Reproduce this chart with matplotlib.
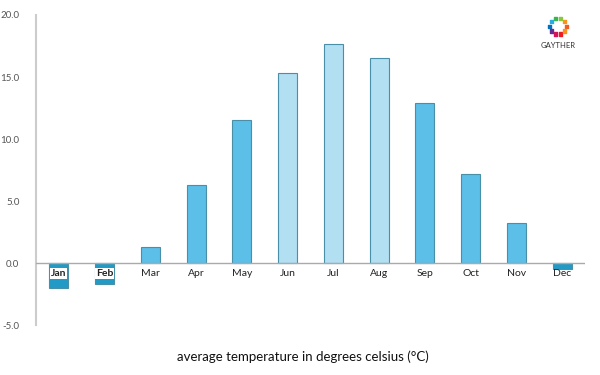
import numpy as np
from matplotlib import pyplot as plt

months = ['Jan', 'Feb', 'Mar', 'Apr', 'May', 'Jun', 'Jul', 'Aug', 'Sep', 'Oct', 'Nov', 'Dec']
temps = [-2.0, -1.7, 1.3, 6.3, 11.5, 15.3, 17.7, 16.5, 12.9, 7.2, 3.2, -0.5]
yticks = [-5.0, 0.0, 5.0, 10.0, 15.0, 20.0]

plt.rcParams['font.family'] = ['Lato', 'DejaVu Sans']


def bar_color(t, m):
    if t < 0:
        return '#229ac6'
    if m in ('Jun', 'Jul', 'Aug'):
        return '#b2dff1'
    return '#5bbfe8'


fig = plt.figure(figsize=(6, 3.75), dpi=100)
ax = fig.add_axes([0.06, 0.133, 0.915, 0.827])

x = np.arange(len(months))
colors = [bar_color(t, m) for t, m in zip(temps, months)]
ax.bar(x, temps, width=0.42, color=colors, edgecolor='#4a8fa8', linewidth=0.8, zorder=2)

for xi, t, m in zip(x, temps, months):
    if t < -1:
        ax.text(xi, -0.85, m, ha='center', va='center', fontsize=7.5, fontweight='bold',
                color='#222222', zorder=4,
                bbox=dict(facecolor='white', edgecolor='none', pad=0.6))
    else:
        ax.text(xi, -0.85, m, ha='center', va='center', fontsize=7.5, color='#222222', zorder=4)

ax.axhline(0, color='#aaaaaa', linewidth=1, zorder=3)
ax.set_xlim(-0.5, 11.5)
ax.set_ylim(-5, 20)
ax.set_yticks(yticks)
ax.set_yticklabels([f'{v:.1f}' for v in yticks], fontsize=7, color='#555555')
ax.tick_params(axis='y', length=0, pad=12)
ax.set_xticks([])
for s in ['top', 'right', 'bottom']:
    ax.spines[s].set_visible(False)
ax.spines['left'].set_color('#cccccc')
ax.spines['left'].set_linewidth(1.5)

fig.text(0.505, 0.05, 'average temperature in degrees celsius (°C)', ha='center', va='center',
         fontsize=9.5, color='#111111')

# logo
logo_colors = ['#f15a24', '#f7931e', '#8cc63f', '#39b54a', '#29abe2', '#0071bc',
               '#662d91', '#d4145a', '#ed1c24', '#f7931e']
ang = np.linspace(0, 2 * np.pi, len(logo_colors), endpoint=False)
lax = fig.add_axes([0.905, 0.89, 0.05, 0.08])
lax.scatter(np.cos(ang), np.sin(ang), s=6, c=logo_colors, marker='s')
lax.set_xlim(-1.8, 1.8)
lax.set_ylim(-1.8, 1.8)
lax.axis('off')
fig.text(0.93, 0.88, 'GAYTHER', ha='center', va='center', fontsize=5.5, color='#333333')

fig.savefig('out.png')
